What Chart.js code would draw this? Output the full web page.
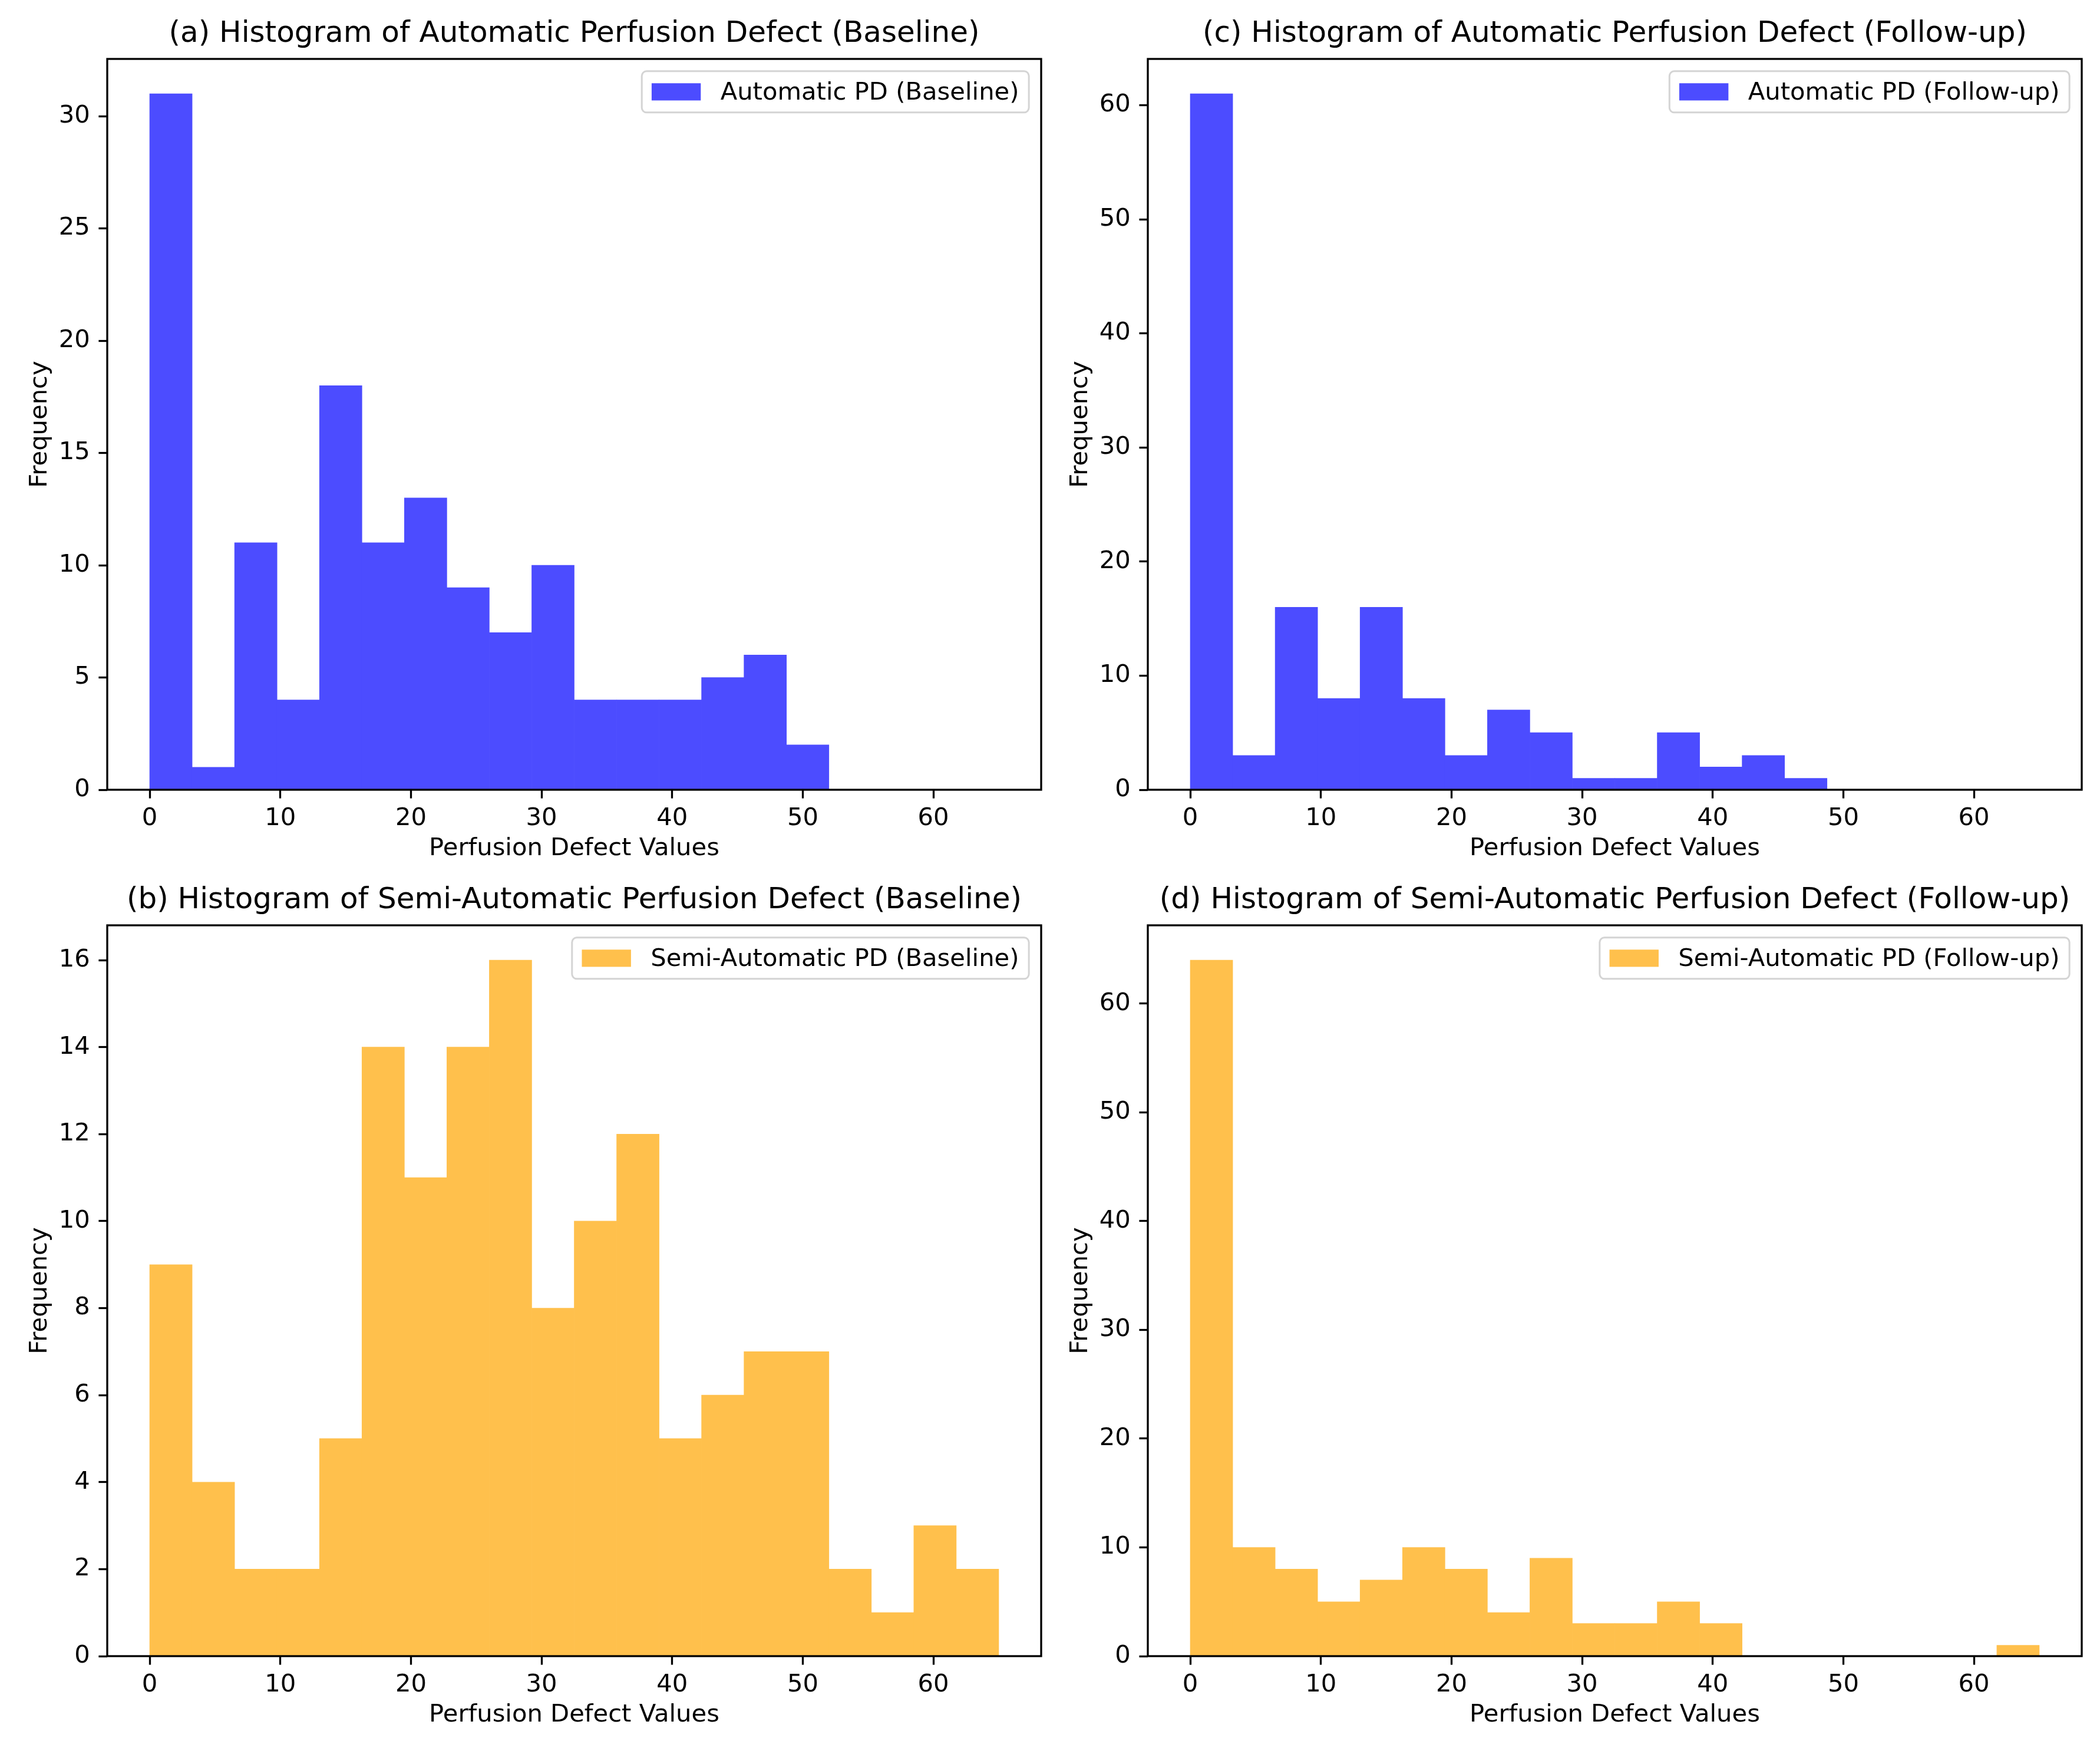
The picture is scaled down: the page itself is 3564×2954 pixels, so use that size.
<!DOCTYPE html>
<html>
<head>
<meta charset="utf-8">
<title>Perfusion defect histograms</title>
<script src="https://cdn.jsdelivr.net/npm/chart.js@4.4.1/dist/chart.umd.min.js"></script>
<style>
  html, body { margin: 0; padding: 0; background: #fff; }
  body { position: relative; width: 3564px; height: 2954px; overflow: hidden; }
  canvas { position: absolute; }
</style>
</head>
<body>
<canvas id="histA" width="1782" height="1484" style="left:0px;top:0px"></canvas>
<canvas id="histC" width="1782" height="1484" style="left:1766px;top:0px"></canvas>
<canvas id="histB" width="1782" height="1484" style="left:0px;top:1470px"></canvas>
<canvas id="histD" width="1782" height="1484" style="left:1766px;top:1470px"></canvas>
<script>
// 20 bins between 0 and 65
const binEdges = [0, 3.25, 6.5, 9.75, 13, 16.25, 19.5, 22.75, 26, 29.25, 32.5,
  35.75, 39, 42.25, 45.5, 48.75, 52, 55.25, 58.5, 61.75, 65];

const autoBaseline = [31, 1, 11, 4, 18, 11, 13, 9, 7, 10, 4, 4, 4, 5, 6, 2, 0, 0, 0, 0];
const autoFollowup = [61, 3, 16, 8, 16, 8, 3, 7, 5, 1, 1, 5, 2, 3, 1, 0, 0, 0, 0, 0];
const semiBaseline = [9, 4, 2, 2, 5, 14, 11, 14, 16, 8, 10, 12, 5, 6, 7, 7, 2, 1, 3, 2];
const semiFollowup = [64, 10, 8, 5, 7, 10, 8, 4, 9, 3, 3, 5, 3, 0, 0, 0, 0, 0, 0, 1];

const xTitle = "Perfusion Defect Values";
const yTitle = "Frequency";

const FONT = "DejaVu Sans";
const FS = 41.7; // 10pt at 300 dpi
const BLUE = "#4c4cff";
const ORANGE = "#ffc04c";

// draws the closed axes box and a matplotlib style legend in the top right corner
const frameAndLegend = {
  id: "frameAndLegend",
  afterDatasetsDraw(chart) {
    const { ctx, chartArea: a } = chart;
    const ds = chart.data.datasets[0];
    ctx.save();
    ctx.strokeStyle = "#000";
    ctx.lineWidth = 3.3;
    ctx.strokeRect(a.left, a.top, a.right - a.left, a.bottom - a.top);

    ctx.font = `${FS}px "${FONT}"`;
    const textW = ctx.measureText(ds.label).width;
    const pad = 0.4 * FS, handleW = 2 * FS, handleH = 0.7 * FS, gap = 0.8 * FS;
    const boxW = pad * 2 + handleW + gap + textW;
    const boxH = 70;
    const right = a.right - 0.5 * FS;
    const top = a.top + 0.5 * FS;
    const left = right - boxW;
    ctx.beginPath();
    ctx.roundRect(left, top, boxW, boxH, 8);
    ctx.fillStyle = "rgba(255,255,255,0.8)";
    ctx.fill();
    ctx.strokeStyle = "#d4d4d4";
    ctx.lineWidth = 3;
    ctx.stroke();
    const cy = top + boxH / 2;
    ctx.fillStyle = ds.backgroundColor;
    ctx.fillRect(left + pad, cy - handleH / 2, handleW, handleH);
    ctx.fillStyle = "#000";
    ctx.textAlign = "left";
    ctx.textBaseline = "middle";
    ctx.fillText(ds.label, left + pad + handleW + gap, cy + 2);
    ctx.restore();
  },
};

function makeHistogram(canvasId, title, label, counts, color, yStep) {
  const centers = binEdges.slice(0, -1).map((e, i) => (e + binEdges[i + 1]) / 2);
  const yMax = Math.max(...counts) * 1.05;
  const tickFont = { family: FONT, size: FS };

  return new Chart(document.getElementById(canvasId), {
    type: "bar",
    data: {
      datasets: [
        {
          label: label,
          data: centers.map((x, i) => ({ x: x, y: counts[i] })),
          backgroundColor: color,
          borderWidth: 0,
          barPercentage: 1,
          categoryPercentage: 1,
        },
      ],
    },
    options: {
      responsive: false,
      animation: false,
      devicePixelRatio: 1,
      layout: { padding: { left: 0, right: 15, top: 0, bottom: 0 } },
      plugins: {
        legend: { display: false },
        tooltip: { enabled: false },
        title: {
          display: true,
          text: title,
          fullSize: false,
          color: "#000",
          font: { family: FONT, size: 50, weight: "normal", lineHeight: 1.2 },
          padding: { top: 28, bottom: 12 },
        },
      },
      scales: {
        x: {
          type: "linear",
          offset: false,
          min: -3.25,
          max: 68.25,
          grid: {
            display: true,
            offset: false,
            drawOnChartArea: false,
            drawTicks: true,
            tickLength: 14.6,
            tickWidth: 3.3,
            tickColor: "#000",
          },
          border: { display: false },
          ticks: {
            stepSize: 10,
            includeBounds: false,
            autoSkip: false,
            maxRotation: 0,
            padding: 10,
            color: "#000",
            font: tickFont,
          },
          title: {
            display: true,
            text: xTitle,
            color: "#000",
            font: tickFont,
            padding: { top: 0, bottom: 19 },
          },
          afterFit: (scale) => {
            scale.height = 144;
          },
        },
        y: {
          min: 0,
          max: yMax,
          grid: {
            display: true,
            drawOnChartArea: false,
            drawTicks: true,
            tickLength: 14.6,
            tickWidth: 3.3,
            tickColor: "#000",
          },
          border: { display: false },
          ticks: {
            stepSize: yStep,
            includeBounds: false,
            autoSkip: false,
            padding: 14.6,
            color: "#000",
            font: tickFont,
          },
          title: {
            display: true,
            text: yTitle,
            color: "#000",
            font: tickFont,
            padding: { top: 43, bottom: 0 },
          },
          afterFit: (scale) => {
            scale.width = 182;
          },
        },
      },
    },
    plugins: [frameAndLegend],
  });
}

makeHistogram("histA", "(a) Histogram of Automatic Perfusion Defect (Baseline)",
  "Automatic PD (Baseline)", autoBaseline, BLUE, 5);
makeHistogram("histC", "(c) Histogram of Automatic Perfusion Defect (Follow-up)",
  "Automatic PD (Follow-up)", autoFollowup, BLUE, 10);
makeHistogram("histB", "(b) Histogram of Semi-Automatic Perfusion Defect (Baseline)",
  "Semi-Automatic PD (Baseline)", semiBaseline, ORANGE, 2);
makeHistogram("histD", "(d) Histogram of Semi-Automatic Perfusion Defect (Follow-up)",
  "Semi-Automatic PD (Follow-up)", semiFollowup, ORANGE, 10);
</script>
</body>
</html>
